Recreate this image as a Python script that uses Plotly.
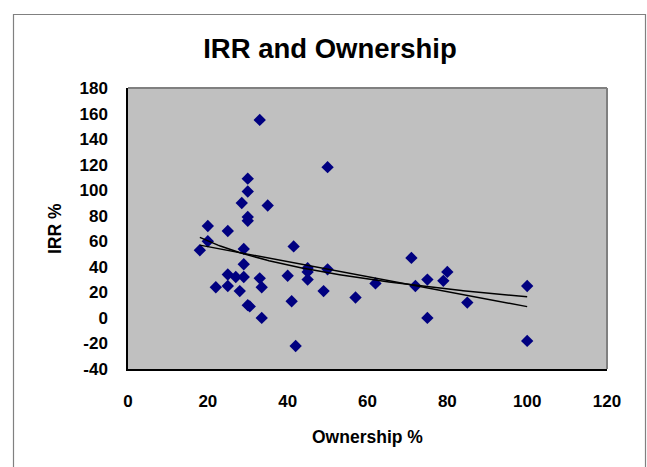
import numpy as np
import plotly.graph_objects as go

# Data
ownership = [18, 20, 20, 22, 25, 25, 25, 27, 28, 28.5, 29, 29, 29, 30, 30, 30, 30, 30,
             30.5, 33, 33, 33.5, 33.5, 35, 40, 41, 41.5, 42, 45, 45, 45, 49, 50, 50,
             57, 62, 71, 72, 75, 75, 79, 80, 85, 100, 100]
irr = [53, 72, 60, 24, 68, 34, 25, 32, 21, 90, 54, 42, 32, 109, 99, 79, 76, 10,
       9, 31, 155, 24, 0, 88, 33, 13, 56, -22, 39, 36, 30, 21, 118, 38,
       16, 27, 47, 25, 30, 0, 29, 36, 12, 25, -18]

x_ticks = [0, 20, 40, 60, 80, 100, 120]
y_ticks = [-40, -20, 0, 20, 40, 60, 80, 100, 120, 140, 160, 180]

xa = np.array(ownership, dtype=float)
ya = np.array(irr, dtype=float)

# Trendlines (linear and logarithmic), computed from the data
lin = np.polyfit(xa, ya, 1)
logc = np.polyfit(np.log(xa), ya, 1)
xt = np.linspace(xa.min(), xa.max(), 200)
y_lin = np.polyval(lin, xt)
y_log = np.polyval(logc, np.log(xt))

FONT = "Liberation Sans, Arial, sans-serif"

fig = go.Figure()
fig.add_trace(go.Scatter(x=ownership, y=irr, mode="markers",
                         marker=dict(symbol="diamond", size=9.5, color="#000080",
                                     line=dict(width=0)),
                         showlegend=False, hoverinfo="x+y"))
fig.add_trace(go.Scatter(x=xt, y=y_log, mode="lines",
                         line=dict(color="black", width=1.5), showlegend=False))
fig.add_trace(go.Scatter(x=xt, y=y_lin, mode="lines",
                         line=dict(color="black", width=1.5), showlegend=False))

W, H = 647, 467
L, R, T, B = 128, 607, 88, 369
pw, ph = R - L, B - T

def px_x(p):
    return (p - L) / pw

def px_y(p):
    return (B - p) / ph

fig.update_layout(
    width=W, height=H,
    margin=dict(l=L, r=W - R, t=T, b=H - B, pad=0),
    paper_bgcolor="white",
    plot_bgcolor="#C0C0C0",
    font=dict(family=FONT, color="black"),
    title=dict(text="IRR and Ownership", x=330 / W, xref="container", xanchor="center",
               y=1 - 48 / H, yref="container", yanchor="middle",
               font=dict(family=FONT, size=27.5, weight="bold", color="black")),
    xaxis=dict(range=[0, 120], tickvals=x_ticks, ticktext=[str(v) for v in x_ticks],
               showgrid=False, zeroline=False, showline=True, linecolor="black",
               linewidth=1.5, ticks="", ticklabelstandoff=16,
               tickfont=dict(family=FONT, size=17, weight="bold", color="black")),
    yaxis=dict(range=[-40, 180], tickvals=y_ticks, ticktext=[str(v) for v in y_ticks],
               showgrid=False, zeroline=False, showline=True, linecolor="black",
               linewidth=1.5, ticks="", ticklabelstandoff=15,
               tickfont=dict(family=FONT, size=17, weight="bold", color="black")),
    showlegend=False,
)

# axis titles
fig.add_annotation(text="Ownership %", xref="paper", yref="paper",
                   x=px_x(367), y=px_y(437), xanchor="center", yanchor="middle",
                   showarrow=False, font=dict(family=FONT, size=17.5, weight="bold"))
fig.add_annotation(text="IRR %", xref="paper", yref="paper", textangle=-90,
                   x=px_x(55), y=px_y(229), xanchor="center", yanchor="middle",
                   showarrow=False, font=dict(family=FONT, size=17.5, weight="bold"))

# plot-area gray border (top and right)
fig.add_shape(type="line", xref="paper", yref="paper", x0=0, x1=1, y0=1, y1=1,
              line=dict(color="#808080", width=2))
fig.add_shape(type="line", xref="paper", yref="paper", x0=1, x1=1, y0=0, y1=1,
              line=dict(color="#808080", width=2))

# chart-area border
fig.add_shape(type="rect", xref="paper", yref="paper",
              x0=px_x(13.5), x1=px_x(645.5), y0=px_y(475), y1=px_y(14.5),
              line=dict(color="#808080", width=1.2), fillcolor="rgba(0,0,0,0)",
              layer="below")

fig.write_html("out.html",
               config={"displayModeBar": False},
               post_script="document.body.style.margin='0';"
                           "document.body.style.overflow='hidden';")
